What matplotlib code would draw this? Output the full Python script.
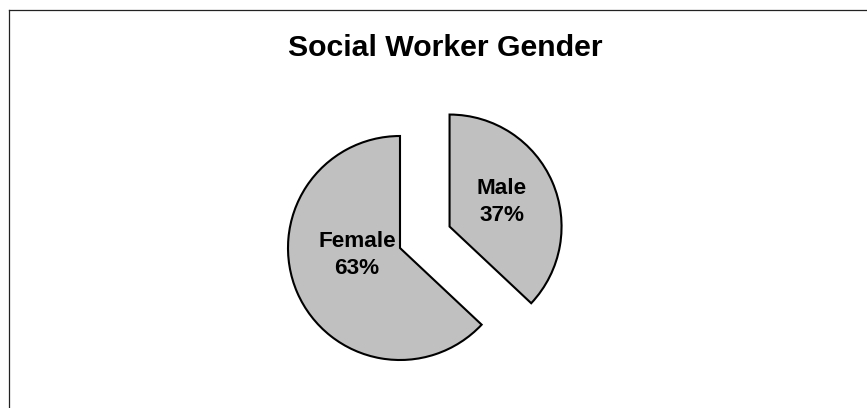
import matplotlib.pyplot as plt
from matplotlib.lines import Line2D

plt.rcParams['font.family'] = ['Liberation Sans', 'DejaVu Sans']

# data
labels = ['Male', 'Female']
shares = [37, 63]

W, H = 867, 408
fig = plt.figure(figsize=(W / 100, H / 100), dpi=100)
ax = fig.add_axes([0, 0, 1, 1])

radius = 112
center = (400, H - 248)
# pie explode is in data units here (pixels), male slice pulled out ~54 px
explode = [54, 0]

wedges, texts = ax.pie(
    shares,
    labels=[f'{l}\n{s}%' for l, s in zip(labels, shares)],
    explode=explode,
    startangle=90,
    counterclock=False,
    radius=radius,
    center=center,
    labeldistance=0.5,
    colors=['#c0c0c0', '#c0c0c0'],
    wedgeprops=dict(edgecolor='black', linewidth=1.5),
    textprops=dict(fontsize=16.2, fontweight='bold', ha='center', va='center',
                   linespacing=1.4),
    frame=True,
)
ax.axis('off')
ax.set_xlim(0, W)
ax.set_ylim(0, H)
ax.set_aspect('equal')

# label placement (pixel positions, matching the original layout)
label_pos = [(502, H - 202), (357, H - 255)]
for t, p in zip(texts, label_pos):
    t.set_position(p)
    t.set_ha('center')
    t.set_va('center')

fig.text(445 / W, 1 - 48 / H, 'Social Worker Gender', fontsize=21.8,
         fontweight='bold', ha='center', va='center')

# chart frame (only top and left edges visible)
fig.add_artist(Line2D([9 / W, 1.0], [1 - 10 / H, 1 - 10 / H],
                      transform=fig.transFigure, color='#222222', lw=0.9))
fig.add_artist(Line2D([9 / W, 9 / W], [0.0, 1 - 10 / H],
                      transform=fig.transFigure, color='#222222', lw=0.9))

fig.savefig('out.png', dpi=100, facecolor='white')
